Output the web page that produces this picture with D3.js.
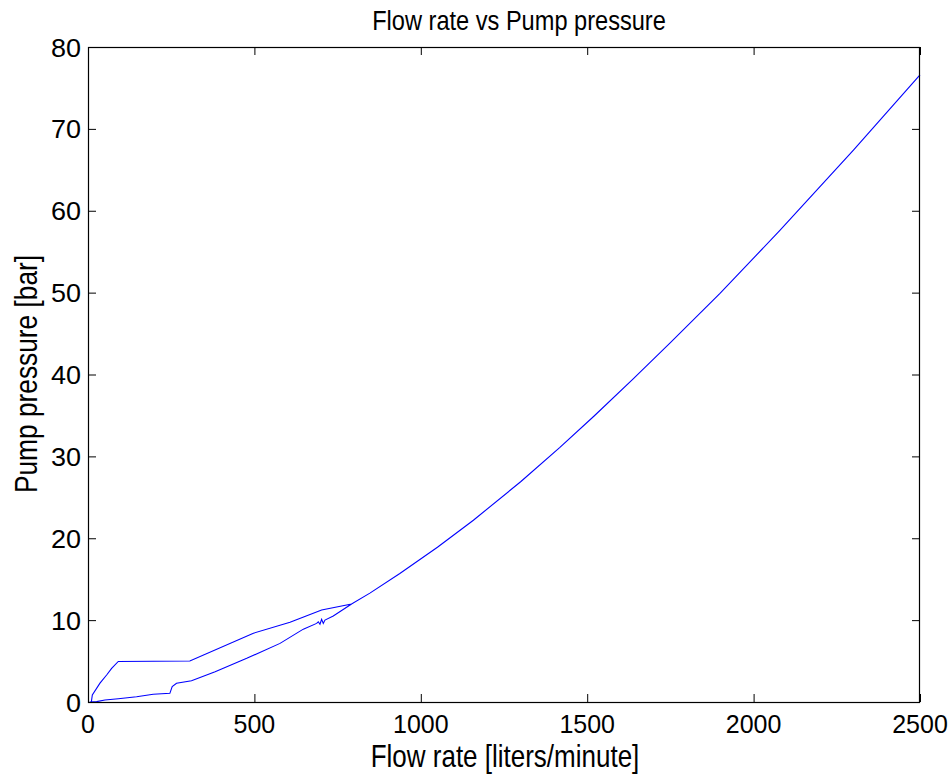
<!DOCTYPE html>
<html><head><meta charset="utf-8">
<script src="https://cdn.jsdelivr.net/npm/d3@7"></script>
<style>body{margin:0;background:#fff}svg{display:block}text{font-family:"Liberation Sans",Arial,sans-serif;fill:#000}</style>
</head><body><svg id="c" width="951" height="774"></svg>
<script>
const flowRate = [2500,2300,2079,1899,1750,1659,1639,1520,1418,1300,1158,1050,937,847,792,
  702,607,497,306,91,71,56,36,13,10,5,
  26,51,91,146,196,246,253,266,311,382,477,577,647,687,692,697,702,707,712,737,792];
const pressure = [76.6,67.4,57.6,49.9,43.9,40.3,39.5,34.9,31.1,26.9,22.2,18.9,15.7,13.3,11.97,
  11.23,9.73,8.4,5.0,4.95,4.1,3.3,2.3,0.85,0.0,0.0,
  0.05,0.25,0.4,0.65,0.94,1.06,1.87,2.28,2.6,3.7,5.33,7.16,8.9,9.6,9.8,9.5,10.1,9.6,10.0,10.5,11.97];
const xTicks = [0,500,1000,1500,2000,2500];
const yTicks = [0,10,20,30,40,50,60,70,80];
const titleText = "Flow rate vs Pump pressure";
const xLabel = "Flow rate [liters/minute]";
const yLabel = "Pump pressure [bar]";

const L=88,R=920,T=47,B=702;
const svg=d3.select("#c");
const x=d3.scaleLinear().domain([0,2500]).range([L,R]);
const y=d3.scaleLinear().domain([0,80]).range([B,T]);
const data=flowRate.map((f,i)=>[f,pressure[i]]);

svg.append("path").datum(data)
  .attr("d",d3.line().x(d=>x(d[0])).y(d=>y(d[1])))
  .attr("fill","none").attr("stroke","#0000ff").attr("stroke-width",1.1);

function styleAxis(g){g.select(".domain").remove();g.selectAll("line").attr("stroke","#000");g.selectAll("text").remove();}
svg.append("g").attr("transform",`translate(0,${B})`).call(d3.axisBottom(x).tickValues(xTicks).tickSizeInner(-8).tickSizeOuter(0)).call(styleAxis);
svg.append("g").attr("transform",`translate(0,${T})`).call(d3.axisTop(x).tickValues(xTicks).tickSizeInner(-8).tickSizeOuter(0)).call(styleAxis);
svg.append("g").attr("transform",`translate(${L},0)`).call(d3.axisLeft(y).tickValues(yTicks).tickSizeInner(-8).tickSizeOuter(0)).call(styleAxis);
svg.append("g").attr("transform",`translate(${R},0)`).call(d3.axisRight(y).tickValues(yTicks).tickSizeInner(-8).tickSizeOuter(0)).call(styleAxis);
svg.append("rect").attr("x",L+0.5).attr("y",T+0.5).attr("width",R-L-1).attr("height",B-T)
  .attr("fill","none").attr("stroke","#000").attr("stroke-width",1.2);

xTicks.forEach(v=>{
  svg.append("text").attr("transform",`translate(${x(v)},733) scale(1,1.0)`)
    .attr("text-anchor","middle").style("font-size","25px").text(d3.format("d")(v));
});
yTicks.forEach(v=>{
  svg.append("text").attr("transform",`translate(81,${y(v)+9.5}) scale(1,0.95)`)
    .attr("text-anchor","end").style("font-size","27px").text(v);
});
svg.append("text").attr("transform",`translate(519,30) scale(1,1.18)`)
  .attr("text-anchor","middle").style("font-size","23.6px").text(titleText);
svg.append("text").attr("transform",`translate(505,767) scale(1,1.18)`)
  .attr("text-anchor","middle").style("font-size","26px").text(xLabel);
svg.append("text").attr("transform",`translate(37,374) rotate(-90) scale(1,1.2)`)
  .attr("text-anchor","middle").style("font-size","26.3px").text(yLabel);
</script></body></html>
